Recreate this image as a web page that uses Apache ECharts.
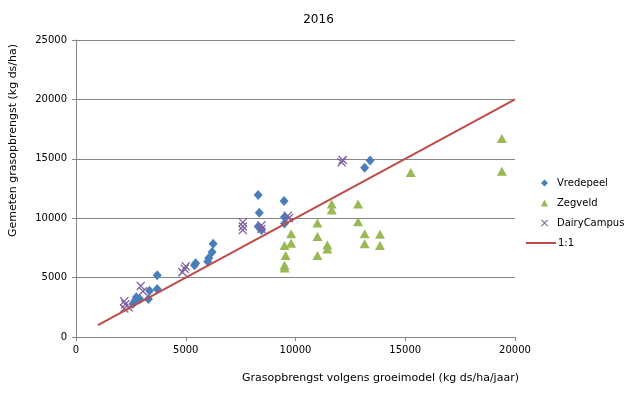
<!DOCTYPE html>
<html>
<head>
<meta charset="utf-8">
<script src="https://cdn.jsdelivr.net/npm/echarts@6/dist/echarts.min.js"></script>
<style>html,body{margin:0;padding:0;background:#fff}#c{width:637px;height:393px}</style>
</head>
<body>
<div id="c"></div>
<script>
const title = '2016';
const xName = 'Grasopbrengst volgens groeimodel (kg ds/ha/jaar)';
const yName = 'Gemeten grasopbrengst (kg ds/ha)';
const seriesNames = ['Vredepeel', 'Zegveld', 'DairyCampus', '1:1'];

const vredepeel = [
  [2600,2800],[2700,3100],[2750,3350],[2900,3200],[3300,3200],[3350,3900],[3700,4050],[3700,5200],
  [5400,6050],[5450,6200],[6000,6350],[6050,6650],[6200,7150],[6250,7850],
  [8300,9300],[8450,9000],[8350,10450],[8300,11950],[9500,9550],[9500,10100],[9480,11450],
  [13150,14250],[13400,14850]
];
const zegveld = [
  [9500,5800],[9500,6050],[9550,6850],[9500,7700],[9800,7900],[9800,8700],
  [11000,6850],[11000,8450],[11000,9600],[11450,7400],[11450,7750],[11650,10700],[11650,11200],
  [12850,9700],[12850,11200],[13150,7850],[13150,8700],[13850,7700],[13850,8650],
  [15250,13850],[19400,13950],[19400,16700]
];
const dairyCampus = [
  [2200,3000],[2250,2750],[2400,2500],[2200,2400],[2950,4300],[3050,3850],
  [4850,5450],[4950,5750],[5000,5950],
  [7600,9000],[7600,9300],[7600,9650],[8450,9400],[8450,9100],[9700,10000],[9650,10200],
  [12100,14700],[12150,14900]
];
const oneToOne = [[1000,1000],[20000,20000]];

const xTicks = {min:0, max:20000, interval:5000};
const yTicks = {min:0, max:25000, interval:5000};

const crossPath = 'path://M0,1L1,0L5,4L9,0L10,1L6,5L10,9L9,10L5,6L1,10L0,9L4,5Z';
const font = 'DejaVu Sans, Verdana, sans-serif';
const axisColor = '#868686';
const plain = v => String(v);

const chart = echarts.init(document.getElementById('c'), null, {renderer:'canvas'});
chart.setOption({
  animation: false,
  backgroundColor: '#fff',
  title: {text: title, left: 'center', top: 9, textStyle:{fontFamily:font, fontSize:12, fontWeight:'normal', color:'#000'}},
  grid: {left:73, right:122, top:40, bottom:56},
  legend: [{
    data: seriesNames.slice(0,3), orient:'vertical', left:536, top:168,
    itemWidth:7, itemHeight:7, itemGap:0,
    textStyle:{fontFamily:font, fontSize:10, color:'#000', lineHeight:20, padding:[0,0,0,4]}
  },{
    data: [{name:seriesNames[3], icon:'rect'}], orient:'vertical', left:521, top:228,
    itemWidth:30, itemHeight:2, itemGap:0,
    itemStyle:{color:'#BE4B48'},
    textStyle:{fontFamily:font, fontSize:10, color:'#000', lineHeight:20, padding:[0,0,0,-3]}
  }],
  xAxis: {
    type:'value', min:xTicks.min, max:xTicks.max, interval:xTicks.interval,
    name:xName, nameLocation:'middle', nameGap:36,
    nameTextStyle:{fontFamily:font, fontSize:11, color:'#000', padding:[0,0,0,170]},
    axisLine:{show:true, onZero:false, lineStyle:{color:axisColor}},
    axisTick:{show:true, length:4, lineStyle:{color:axisColor}},
    axisLabel:{fontFamily:font, fontSize:10, color:'#000', margin:8, formatter:plain},
    splitLine:{show:false}
  },
  yAxis: {
    type:'value', min:yTicks.min, max:yTicks.max, interval:yTicks.interval,
    name:yName, nameLocation:'middle', nameGap:57,
    nameTextStyle:{fontFamily:font, fontSize:11, color:'#000', padding:[0,0,0,96]},
    axisLine:{show:true, onZero:false, lineStyle:{color:axisColor}},
    axisTick:{show:true, length:4, lineStyle:{color:axisColor}},
    axisLabel:{fontFamily:font, fontSize:10, color:'#000', margin:9, formatter:plain},
    splitLine:{show:true, lineStyle:{color:axisColor}}
  },
  series: [
    {name:seriesNames[0], type:'scatter', data:vredepeel, symbol:'diamond', symbolSize:[9,10],
     itemStyle:{color:'#4A7EBB', opacity:1}, z:3},
    {name:seriesNames[1], type:'scatter', data:zegveld, symbol:'triangle', symbolSize:[10,9],
     itemStyle:{color:'#98B954', opacity:1}, z:2},
    {name:seriesNames[2], type:'scatter', data:dairyCampus, symbol:crossPath, symbolSize:9,
     itemStyle:{color:'#7D60A0', opacity:1}, z:4},
    {name:seriesNames[3], type:'line', data:oneToOne, symbol:'none', showSymbol:false,
     lineStyle:{color:'#BE4B48', width:2}, itemStyle:{color:'#BE4B48'}, z:5}
  ]
});
</script>
</body>
</html>
